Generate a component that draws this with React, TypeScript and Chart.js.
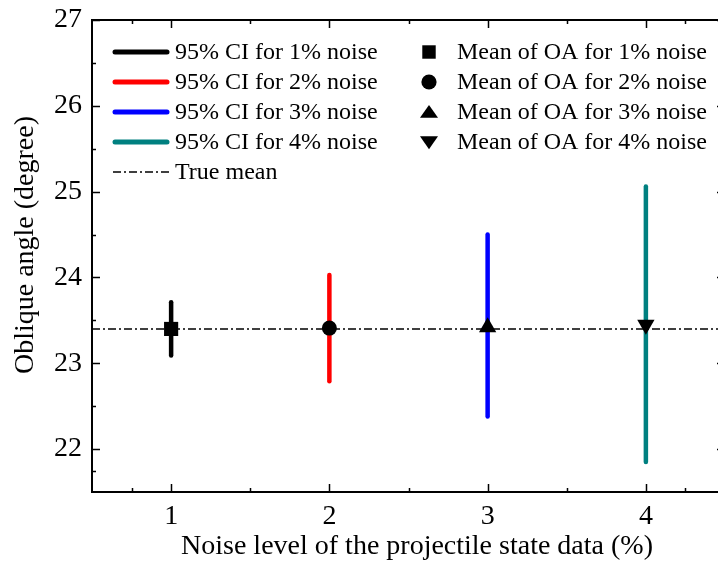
import React, { useEffect, useRef } from "react";
import { Chart, registerables } from "chart.js";

Chart.register(...registerables);

// Noise levels (%) and the oblique-angle statistics at each level
const noiseLevels = [1, 2, 3, 4];
const meanOA = [23.4, 23.41, 23.42, 23.45];
const ciLower = [23.09, 22.79, 22.38, 21.85];
const ciUpper = [23.71, 24.03, 24.5, 25.06];
const trueMean = 23.4;

const ciColors = ["#000000", "#ff0000", "#0000ff", "#008080"];
const meanStyles = ["rect", "circle", "triangle", "triangleDown"];

const ciLabels = [
  "95% CI for 1% noise",
  "95% CI for 2% noise",
  "95% CI for 3% noise",
  "95% CI for 4% noise",
];
const meanLabels = [
  "Mean of OA for 1% noise",
  "Mean of OA for 2% noise",
  "Mean of OA for 3% noise",
  "Mean of OA for 4% noise",
];
const trueMeanLabel = "True mean";

const xTicks = [1, 2, 3, 4];
const yTicks = [22, 23, 24, 25, 26, 27];
const xRange = [0.5, 4.5];
const yRange = [21.5, 27];

const xTitle = "Noise level of the projectile state data (%)";
const yTitle = "Oblique angle (degree)";

const FONT = '"Liberation Serif", "Times New Roman", serif';
const DASH_DOT = [8, 3, 2, 3];

function midpoints(vals: number[], lo: number, hi: number) {
  const out: number[] = [];
  const all = [lo, ...vals, hi];
  for (let i = 0; i < all.length - 1; i++) {
    const m = (all[i] + all[i + 1]) / 2;
    if (m > lo && m < hi && !vals.includes(m)) out.push(m);
  }
  return out;
}

function drawMarker(ctx: CanvasRenderingContext2D, style: string, x: number, y: number, r: number) {
  ctx.beginPath();
  if (style === "rect") {
    const s = r * Math.SQRT1_2;
    ctx.rect(x - s, y - s, 2 * s, 2 * s);
  } else if (style === "circle") {
    ctx.arc(x, y, r * 0.8, 0, Math.PI * 2);
  } else if (style === "triangle") {
    ctx.moveTo(x, y - r * 0.75);
    ctx.lineTo(x + r * 0.95, y + r * 0.6);
    ctx.lineTo(x - r * 0.95, y + r * 0.6);
    ctx.closePath();
  } else {
    ctx.moveTo(x, y + r * 0.75);
    ctx.lineTo(x + r * 0.95, y - r * 0.6);
    ctx.lineTo(x - r * 0.95, y - r * 0.6);
    ctx.closePath();
  }
  ctx.fill();
}

const framePlugin = {
  id: "frameAndLegend",
  afterDraw(chart: any) {
    const { ctx, chartArea: a, scales } = chart;
    const xs = scales.x;
    const ys = scales.y;
    ctx.save();
    ctx.strokeStyle = "#000";
    ctx.lineWidth = 2;
    ctx.lineCap = "butt";
    ctx.setLineDash([]);
    ctx.strokeRect(a.left, a.top, a.right - a.left, a.bottom - a.top);

    // inward tick marks on all four sides
    const major = 8;
    const minor = 4;
    const xMinor = midpoints(xTicks, xRange[0], xRange[1]);
    const yMinor = midpoints(yTicks, yRange[0], yRange[1]);
    ctx.lineWidth = 1.5;
    ctx.beginPath();
    const xTickSet: [number, number][] = [
      ...xTicks.map((v) => [v, major] as [number, number]),
      ...xMinor.map((v) => [v, minor] as [number, number]),
    ];
    xTickSet.forEach(([v, len]) => {
      const px = Math.round(xs.getPixelForValue(v)) + 0.5;
      ctx.moveTo(px, a.bottom);
      ctx.lineTo(px, a.bottom - len);
      ctx.moveTo(px, a.top);
      ctx.lineTo(px, a.top + len);
    });
    const yTickSet: [number, number][] = [
      ...yTicks.map((v) => [v, major] as [number, number]),
      ...yMinor.map((v) => [v, minor] as [number, number]),
    ];
    yTickSet.forEach(([v, len]) => {
      const py = Math.round(ys.getPixelForValue(v)) + 0.5;
      ctx.moveTo(a.left, py);
      ctx.lineTo(a.left + len, py);
      ctx.moveTo(a.right, py);
      ctx.lineTo(a.right - len, py);
    });
    ctx.stroke();

    // axis titles
    ctx.fillStyle = "#000";
    ctx.font = `28px ${FONT}`;
    ctx.textAlign = "center";
    ctx.textBaseline = "alphabetic";
    ctx.fillText(xTitle, a.left + 325, a.bottom + 62);
    ctx.save();
    ctx.translate(a.left - 59, a.top + 225);
    ctx.rotate(-Math.PI / 2);
    ctx.fillText(yTitle, 0, 0);
    ctx.restore();

    // legend: CI entries on the left, mean markers on the right
    ctx.font = `24px ${FONT}`;
    ctx.textBaseline = "middle";
    ctx.textAlign = "left";
    const rowTop = a.top + 32;
    const rowH = 30;
    const lineX0 = a.left + 23;
    const lineX1 = a.left + 75;
    const textX = a.left + 83;
    ciLabels.forEach((label, i) => {
      const y = rowTop + i * rowH;
      ctx.strokeStyle = ciColors[i];
      ctx.lineWidth = 5;
      ctx.lineCap = "round";
      ctx.beginPath();
      ctx.moveTo(lineX0, y);
      ctx.lineTo(lineX1, y);
      ctx.stroke();
      ctx.fillStyle = "#000";
      ctx.fillText(label, textX, y + 1);
    });
    const ty = rowTop + 4 * rowH;
    ctx.strokeStyle = "#000";
    ctx.lineWidth = 1.5;
    ctx.lineCap = "butt";
    ctx.setLineDash(DASH_DOT);
    ctx.beginPath();
    ctx.moveTo(lineX0 - 2, ty);
    ctx.lineTo(lineX1 + 2, ty);
    ctx.stroke();
    ctx.setLineDash([]);
    ctx.fillText(trueMeanLabel, textX, ty + 1);

    const mX = a.left + 337;
    const mTextX = a.left + 365;
    meanLabels.forEach((label, i) => {
      const y = rowTop + i * rowH;
      ctx.fillStyle = "#000";
      drawMarker(ctx, meanStyles[i], mX, y, 9.5);
      ctx.fillText(label, mTextX, y + 1);
    });
    ctx.restore();
  },
};

export default function App() {
  const ref = useRef<HTMLCanvasElement>(null);

  useEffect(() => {
    document.body.style.margin = "0";
    document.body.style.overflow = "hidden";
    const canvas = ref.current;
    if (!canvas) return;

    const datasets: any[] = [];

    // true mean reference line
    datasets.push({
      label: trueMeanLabel,
      data: [
        { x: xRange[0], y: trueMean },
        { x: xRange[1], y: trueMean },
      ],
      showLine: true,
      borderColor: "#000",
      borderWidth: 1.5,
      borderDash: DASH_DOT,
      pointRadius: 0,
      order: 3,
    });

    // confidence-interval bars
    noiseLevels.forEach((n, i) => {
      datasets.push({
        label: ciLabels[i],
        data: [
          { x: n, y: ciLower[i] },
          { x: n, y: ciUpper[i] },
        ],
        showLine: true,
        borderColor: ciColors[i],
        borderWidth: 4.5,
        borderCapStyle: "round",
        pointRadius: 0,
        order: 2,
      });
    });

    // mean markers
    noiseLevels.forEach((n, i) => {
      const style = meanStyles[i];
      datasets.push({
        label: meanLabels[i],
        data: [{ x: n, y: meanOA[i] }],
        showLine: false,
        pointStyle: style === "triangleDown" ? "triangle" : style,
        rotation: style === "triangleDown" ? 180 : 0,
        pointRadius: style === "circle" ? 7.5 : 10,
        backgroundColor: "#000",
        borderColor: "#000",
        borderWidth: 0,
        order: 1,
      });
    });

    const chart = new Chart(canvas, {
      type: "scatter",
      data: { datasets },
      options: {
        responsive: false,
        animation: false,
        layout: { padding: { top: 20, right: 15, left: 0, bottom: 0 } },
        plugins: { legend: { display: false }, tooltip: { enabled: false } },
        scales: {
          x: {
            type: "linear",
            min: xRange[0],
            max: xRange[1],
            grid: { display: false, drawTicks: false },
            border: { display: false },
            afterBuildTicks: (s: any) => {
              s.ticks = xTicks.map((v) => ({ value: v }));
            },
            afterFit: (s: any) => {
              s.height = 71;
              s.paddingLeft = 0;
              s.paddingRight = 0;
            },
            ticks: {
              color: "#000",
              font: { family: FONT, size: 28 },
              padding: 8,
            },
          },
          y: {
            type: "linear",
            min: yRange[0],
            max: yRange[1],
            grid: { display: false, drawTicks: false },
            border: { display: false },
            afterBuildTicks: (s: any) => {
              s.ticks = yTicks.map((v) => ({ value: v }));
            },
            afterFit: (s: any) => {
              s.width = 92;
              s.paddingTop = 0;
              s.paddingBottom = 0;
            },
            ticks: {
              color: "#000",
              font: { family: FONT, size: 28 },
              padding: 10,
            },
          },
        },
      },
      plugins: [framePlugin],
    } as any);

    return () => chart.destroy();
  }, []);

  return (
    <div style={{ width: 718, height: 563, overflow: "hidden" }}>
      <canvas ref={ref} width={740} height={563} style={{ display: "block", width: 740, height: 563 }} />
    </div>
  );
}
